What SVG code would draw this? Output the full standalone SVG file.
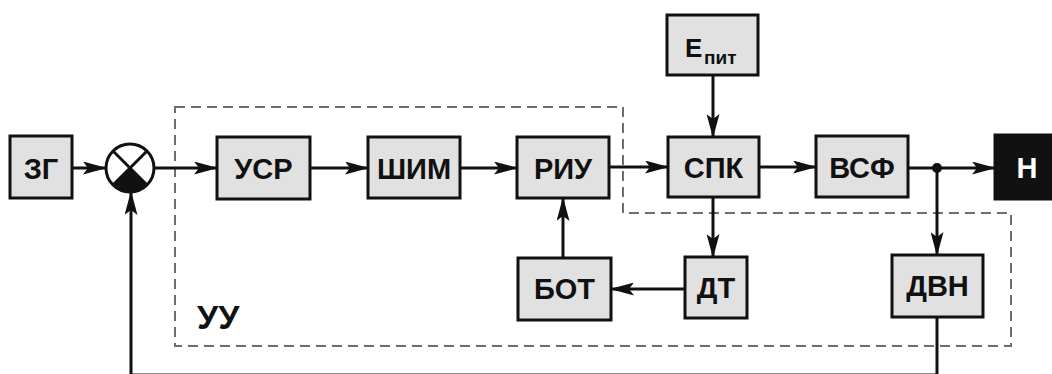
<svg xmlns="http://www.w3.org/2000/svg" width="1052" height="374" viewBox="0 0 1052 374">
<defs>
<marker id="ah" viewBox="0 0 24 13" refX="23" refY="6.5" markerWidth="24" markerHeight="13" markerUnits="userSpaceOnUse" orient="auto">
<path d="M0,0 L24,6.5 L0,13 L5,6.5 z" fill="#111"/>
</marker>
<style>
.box{fill:#e1e1e1;stroke:#111;stroke-width:3}
.lbl{font-family:"Liberation Sans",Arial,sans-serif;font-weight:bold;font-size:29px;fill:#111;text-anchor:middle}
.ln{fill:none;stroke:#111;stroke-width:3}
.arr{fill:none;stroke:#111;stroke-width:3;marker-end:url(#ah)}
.dash{fill:none;stroke:#6e6e6e;stroke-width:2;stroke-dasharray:10 6}
</style>
</defs>
<rect width="1052" height="374" fill="#fff"/>
<path class="dash" d="M175,107 H623 V213 H1011 V346 H175 Z"/>
<text x="197" y="329" class="lbl" style="font-size:34px;text-anchor:start">УУ</text>
<g id="connectors">
<path class="arr" d="M72,168 H106"/>
<path class="arr" d="M155,168 H217"/>
<path class="arr" d="M310,168 H368"/>
<path class="arr" d="M460,168 H517"/>
<path class="arr" d="M609,167 H668"/>
<path class="arr" d="M759,167 H816"/>
<path class="arr" d="M908,168 H995"/>
<path class="arr" d="M937,168 V255"/>
<path class="arr" d="M713,75 V137"/>
<path class="arr" d="M713,197 V257"/>
<path class="arr" d="M685,289 H611"/>
<path class="arr" d="M563,258 V198"/>
<path class="arr" d="M937,317 V375 H131 V192"/>
<circle cx="937" cy="168" r="5" fill="#111"/>
</g>
<g id="ZG"><rect class="box" x="10" y="136" width="62" height="62"/><text class="lbl" x="41" y="179">ЗГ</text></g>
<g id="sum">
<path d="M130,168 L147,185 A24,24 0 0 1 113,185 Z" fill="#111"/>
<circle cx="130" cy="168" r="24" fill="none" stroke="#111" stroke-width="3"/>
<path class="ln" d="M113,151 L147,185 M147,151 L113,185"/>
</g>
<g id="USR"><rect class="box" x="217" y="137" width="93" height="62"/><text class="lbl" x="263.5" y="179">УСР</text></g>
<g id="SHIM"><rect class="box" x="368" y="137" width="92" height="61"/><text class="lbl" x="414" y="179">ШИМ</text></g>
<g id="RIU"><rect class="box" x="517" y="137" width="92" height="61"/><text class="lbl" x="563" y="179">РИУ</text></g>
<g id="Epit"><rect class="box" x="667" y="15" width="91" height="60"/><text class="lbl" x="685" y="57" style="text-anchor:start;font-size:26px">Е<tspan x="704" y="64" style="font-size:19px">пит</tspan></text></g>
<g id="SPK"><rect class="box" x="668" y="137" width="91" height="60"/><text class="lbl" x="713.5" y="178">СПК</text></g>
<g id="VSF"><rect class="box" x="816" y="136" width="92" height="61"/><text class="lbl" x="862" y="178">ВСФ</text></g>
<g id="N"><rect x="995" y="135" width="70" height="64" fill="#111" stroke="#111" stroke-width="3"/><text class="lbl" x="1027" y="178" style="fill:#fff">Н</text></g>
<g id="DT"><rect class="box" x="685" y="257" width="62" height="61"/><text class="lbl" x="716" y="298">ДТ</text></g>
<g id="BOT"><rect class="box" x="518" y="258" width="93" height="62"/><text class="lbl" x="564.5" y="299">БОТ</text></g>
<g id="DVN"><rect class="box" x="892" y="255" width="91" height="62"/><text class="lbl" x="937.5" y="296">ДВН</text></g>
</svg>
